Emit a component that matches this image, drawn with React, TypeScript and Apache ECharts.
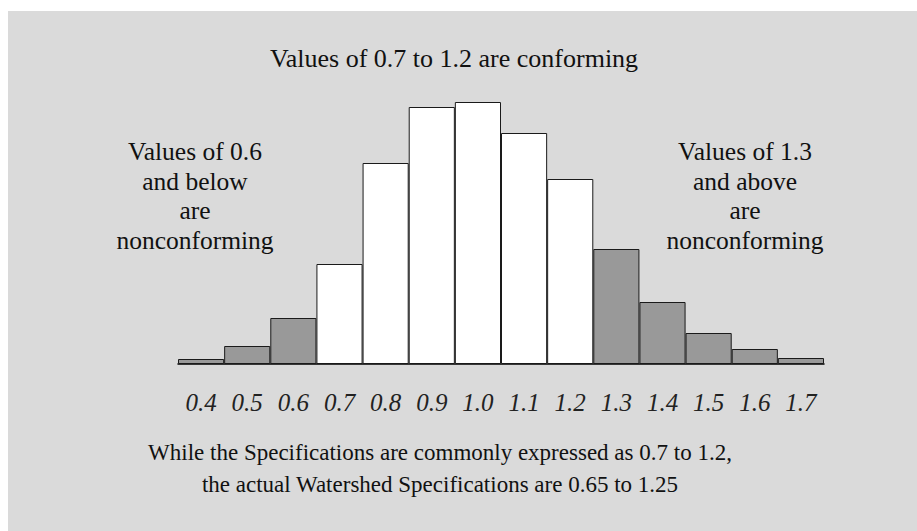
import React, { useEffect, useRef } from "react";
import * as echarts from "echarts";

const categories = ["0.4", "0.5", "0.6", "0.7", "0.8", "0.9", "1.0", "1.1", "1.2", "1.3", "1.4", "1.5", "1.6", "1.7"];
const frequencies = [5, 18, 46, 100, 201, 257, 262, 231, 185, 115, 62, 31, 15, 6];
const conformingLow = 0.7;
const conformingHigh = 1.2;

const titleText = "Values of 0.7 to 1.2 are conforming";
const leftNote = ["Values of 0.6", "and below", "are", "nonconforming"];
const rightNote = ["Values of 1.3", "and above", "are", "nonconforming"];
const footNote = [
  "While the Specifications are commonly expressed as 0.7 to 1.2,",
  "the actual Watershed Specifications are 0.65 to 1.25",
];

const FONT = "Liberation Serif";

export default function App() {
  const ref = useRef<HTMLDivElement>(null);
  useEffect(() => {
    if (!ref.current) return;
    const chart = echarts.init(ref.current, undefined, { renderer: "svg" });
    const textStyle = (text: string, size: number, lh: number) => ({
      text,
      fill: "#111",
      fontFamily: FONT,
      fontSize: size,
      align: "center",
      verticalAlign: "middle",
      lineHeight: lh,
    });
    chart.setOption({
      animation: false,
      backgroundColor: "#dadada",
      grid: { left: 170, right: 93, top: 91, bottom: 167 },
      xAxis: {
        type: "category",
        data: categories,
        axisLine: { show: true, lineStyle: { color: "#000", width: 1.5 } },
        axisTick: { show: false },
        axisLabel: {
          fontFamily: FONT,
          fontStyle: "italic",
          fontSize: 25,
          color: "#222",
          margin: 26,
        },
      },
      yAxis: {
        type: "value",
        min: 0,
        max: 262,
        show: false,
        splitLine: { show: false },
      },
      series: [
        {
          type: "bar",
          barCategoryGap: "0%",
          data: frequencies.map((v, i) => {
            const c = parseFloat(categories[i]);
            const ok = c >= conformingLow - 1e-9 && c <= conformingHigh + 1e-9;
            return {
              value: v,
              itemStyle: {
                color: ok ? "#ffffff" : "#999999",
                borderColor: "#1a1a1a",
                borderWidth: 1,
              },
            };
          }),
        },
      ],
      graphic: [
        { type: "text", x: 446, y: 47, style: textStyle(titleText, 26, 30) },
        { type: "text", x: 187, y: 185, style: textStyle(leftNote.join("\n"), 25.5, 29.5) },
        { type: "text", x: 737, y: 185, style: textStyle(rightNote.join("\n"), 25.5, 29.5) },
        { type: "text", x: 432, y: 457, style: textStyle(footNote.join("\n"), 23, 32) },
      ],
    });
    return () => chart.dispose();
  }, []);
  return (
    <div
      ref={ref}
      style={{ position: "fixed", left: 8, top: 11, width: 909, height: 520 }}
    />
  );
}
